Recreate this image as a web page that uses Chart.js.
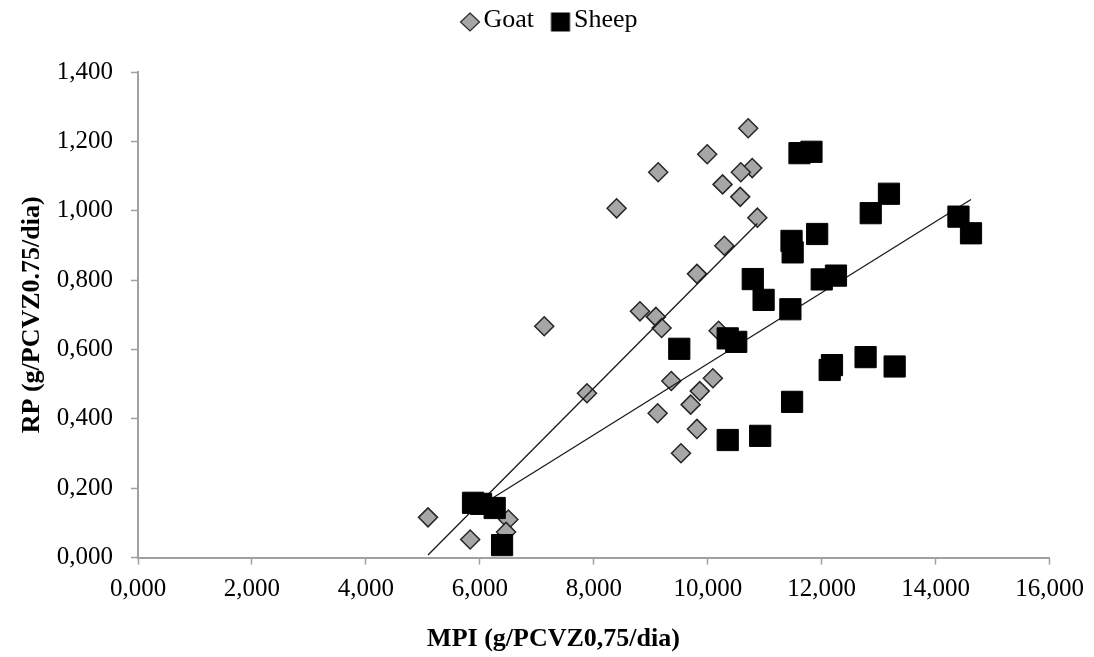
<!DOCTYPE html>
<html>
<head>
<meta charset="utf-8">
<title>MPI x RP</title>
<script src="https://cdn.jsdelivr.net/npm/chart.js@4.4.1/dist/chart.umd.min.js"></script>
<style>
  html, body { margin: 0; padding: 0; background: #fff; }
  #wrap { width: 1094px; height: 657px; }
</style>
</head>
<body>
<div id="wrap"><canvas id="rpChart" width="1094" height="657"></canvas></div>
<script>
const seriesNames = ["Goat", "Sheep"];

const goatMPI = [10.71, 9.99, 9.13, 10.78, 10.58, 10.26, 10.57, 8.40, 10.87, 10.29, 9.81, 8.81, 9.09, 9.19,
  7.13, 10.19, 7.88, 9.36, 10.09, 9.86, 9.70, 9.12, 9.81, 9.53, 5.09, 5.83, 6.50, 6.46];
const goatRP = [1.238, 1.163, 1.111, 1.123, 1.111, 1.076, 1.040, 1.007, 0.980, 0.899, 0.818, 0.710, 0.694, 0.662,
  0.667, 0.654, 0.474, 0.509, 0.517, 0.480, 0.441, 0.416, 0.371, 0.301, 0.116, 0.052, 0.110, 0.074];

const sheepMPI = [11.61, 11.82, 13.18, 12.86, 14.40, 14.62, 11.47, 11.49, 11.92, 10.79, 10.98, 12.00, 12.25, 11.45,
  10.35, 10.50, 9.50, 12.77, 13.28, 12.18, 12.14, 11.48, 10.35, 10.92, 5.88, 6.02, 6.26, 6.39];
const sheepRP = [1.166, 1.170, 1.049, 0.993, 0.983, 0.935, 0.913, 0.880, 0.933, 0.803, 0.743, 0.802, 0.813, 0.716,
  0.632, 0.622, 0.602, 0.578, 0.551, 0.555, 0.541, 0.449, 0.339, 0.351, 0.158, 0.155, 0.143, 0.036];

const xAxisTitle = "MPI (g/PCVZ0,75/dia)";
const yAxisTitle = "RP (g/PCVZ0.75/dia)";
const xTicks = { min: 0, max: 16, step: 2 };
const yTicks = { min: 0, max: 1.4, step: 0.2 };

const serif = "'Liberation Serif', 'Times New Roman', serif";
const fmt = v => Number(v).toFixed(3).replace(".", ",");
const axisGrey = "#a0a0a0";

function toPoints(xs, ys) {
  return xs.map((x, i) => ({ x: x, y: ys[i] }));
}

// linear least squares, drawn over the x range of the series (like the excel trendline)
function trend(xs, ys) {
  const n = xs.length;
  const mx = xs.reduce((a, b) => a + b, 0) / n;
  const my = ys.reduce((a, b) => a + b, 0) / n;
  let sxy = 0, sxx = 0;
  xs.forEach((x, i) => {
    sxy += (x - mx) * (ys[i] - my);
    sxx += (x - mx) * (x - mx);
  });
  const b = sxy / sxx;
  const a = my - b * mx;
  const lo = Math.min(...xs), hi = Math.max(...xs);
  return [{ x: lo, y: a + b * lo }, { x: hi, y: a + b * hi }];
}

// small legend markers
function icon(kind) {
  const c = document.createElement("canvas");
  c.width = 24;
  c.height = 28;
  const g = c.getContext("2d");
  if (kind === "diamond") {
    g.beginPath();
    g.moveTo(12, 7);
    g.lineTo(21.5, 16);
    g.lineTo(12, 25);
    g.lineTo(2.5, 16);
    g.closePath();
    g.fillStyle = "#a6a6a6";
    g.fill();
    g.lineWidth = 1.2;
    g.strokeStyle = "#262626";
    g.stroke();
  } else {
    g.fillStyle = "#000";
    g.fillRect(2.5, 6.5, 19, 19);
  }
  return c;
}
const icons = [icon("diamond"), icon("square")];

// keep the legend band as tall as the space above the plot
const legendBand = {
  id: "legendBand",
  afterInit(chart) {
    const fit = chart.legend.fit;
    chart.legend.fit = function () {
      fit.call(this);
      this.height = 91;
    };
  }
};

const ctx = document.getElementById("rpChart");

new Chart(ctx, {
  type: "scatter",
  data: {
    datasets: [
      {
        label: seriesNames[0],
        data: toPoints(goatMPI, goatRP),
        pointStyle: "rectRot",
        pointRadius: 9.5,
        backgroundColor: "#a6a6a6",
        borderColor: "#262626",
        borderWidth: 1.5,
        order: 4,
      },
      {
        label: seriesNames[1],
        data: toPoints(sheepMPI, sheepRP),
        pointStyle: "rect",
        pointRadius: 15,
        backgroundColor: "#000",
        borderColor: "#000",
        borderWidth: 1,
        order: 1,
      },
      {
        label: "Goat trend",
        data: trend(goatMPI, goatRP),
        showLine: true,
        pointRadius: 0,
        borderColor: "#1a1a1a",
        borderWidth: 1.3,
        order: 3,
      },
      {
        label: "Sheep trend",
        data: trend(sheepMPI, sheepRP),
        showLine: true,
        pointRadius: 0,
        borderColor: "#1a1a1a",
        borderWidth: 1.3,
        order: 2,
      },
    ],
  },
  options: {
    responsive: false,
    animation: false,
    events: [],
    layout: {
      padding: { top: -19, left: 55, right: 42, bottom: 0 },
    },
    plugins: {
      tooltip: { enabled: false },
      legend: {
        position: "top",
        labels: {
          usePointStyle: true,
          boxWidth: 1,
          boxHeight: 20,
          padding: 26,
          color: "#000",
          font: { family: serif, size: 26 },
          generateLabels: () =>
            seriesNames.map((name, i) => ({
              text: name,
              pointStyle: icons[i],
              fontColor: "#000",
              lineWidth: 0,
              hidden: false,
              datasetIndex: i,
            })),
        },
      },
      title: {
        display: true,
        position: "bottom",
        text: xAxisTitle,
        color: "#000",
        font: { family: serif, size: 26, weight: "bold" },
        padding: { top: 0, bottom: 2 },
      },
    },
    scales: {
      x: {
        type: "linear",
        position: "bottom",
        min: xTicks.min,
        max: xTicks.max,
        ticks: {
          stepSize: xTicks.step,
          callback: fmt,
          color: "#000",
          padding: 10,
          font: { family: serif, size: 25 },
        },
        grid: {
          drawOnChartArea: false,
          drawTicks: true,
          tickLength: 7,
          tickColor: axisGrey,
          tickWidth: 1.5,
        },
        border: { display: true, color: axisGrey, width: 2 },
        afterFit: s => { s.height = 66.2; },
      },
      y: {
        type: "linear",
        min: yTicks.min,
        max: yTicks.max,
        ticks: {
          stepSize: yTicks.step,
          callback: fmt,
          color: "#000",
          padding: 18,
          font: { family: serif, size: 25 },
        },
        grid: {
          drawOnChartArea: false,
          drawTicks: true,
          tickLength: 7,
          tickColor: axisGrey,
          tickWidth: 1.5,
        },
        border: { display: true, color: axisGrey, width: 2 },
        title: {
          display: true,
          text: yAxisTitle,
          color: "#000",
          font: { family: serif, size: 26, weight: "bold" },
          padding: { top: -38, bottom: 0 },
        },
        afterFit: s => { s.width = 83; },
      },
    },
  },
  plugins: [legendBand],
});
</script>
</body>
</html>
